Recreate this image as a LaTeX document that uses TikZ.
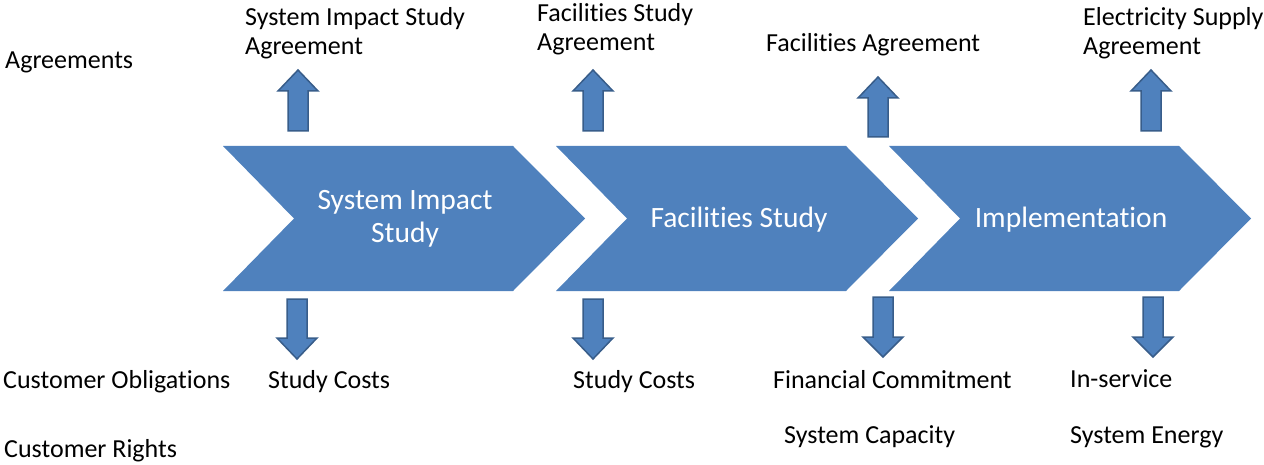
\documentclass[tikz,border=0pt]{standalone}
\usepackage{fontspec}
\setmainfont{Carlito}[Ligatures=NoCommon]
\definecolor{chevblue}{HTML}{4F81BD}
\definecolor{arrline}{HTML}{385D8A}
\newcommand\blkup[4]{\draw[blockarr] ({#1-10},{#4}) -- ({#1-10},{#3}) -- ({#1-20},{#3}) -- ({#1},{#2}) -- ({#1+20},{#3}) -- ({#1+10},{#3}) -- ({#1+10},{#4}) -- cycle;}
\newcommand\blkdown[4]{\draw[blockarr] ({#1-10},{#4}) -- ({#1-10},{#3}) -- ({#1-20},{#3}) -- ({#1},{#2}) -- ({#1+20},{#3}) -- ({#1+10},{#3}) -- ({#1+10},{#4}) -- cycle;}
\newcommand\chev[1]{\fill[chevblue] ({#1},146) -- ({#1+290},146) -- ({#1+362},218.5) -- ({#1+290},291) -- ({#1},291) -- ({#1+71},218.5) -- cycle;}
\begin{document}
\begin{tikzpicture}[x=1pt,y=-1pt,
  lbl/.style={anchor=base west,inner sep=0pt,font=\fontsize{26}{29}\selectfont,align=left},
  ctext/.style={anchor=base,inner sep=0pt,text=white,font=\fontsize{29.5}{33}\selectfont,align=center},
  blockarr/.style={fill=chevblue,draw=arrline,line width=1.5pt,line join=miter}]
\useasboundingbox (0,0) rectangle (1264,465);
% chevrons
\chev{223}
\chev{556}
\chev{889}
% up arrows
\blkup{298}{70}{91}{131}
\blkup{593}{70}{91}{131}
\blkup{878}{77}{98}{137}
\blkup{1151}{70}{91}{131}
% down arrows
\blkdown{297}{359}{338}{299}
\blkdown{593}{359}{338}{299}
\blkdown{883}{357}{337}{297}
\blkdown{1153}{357}{337}{297}
% chevron texts (base = last line)
\node[ctext] (c1) at (405,243) {System Impact\\Study};
\node[ctext] (c2) at (739,228) {Facilities Study};
\node[ctext] (c3) at (1071,228) {Implementation};
% row labels
\node[lbl] (agr) at (5,69) {Agreements};
\node[lbl] (obl) at (3,388) {Customer Obligations};
\node[lbl] (rig) at (4,457) {Customer Rights};
% agreements (base = last line)
\node[lbl] (a1) at (245,55) {System Impact Study\\Agreement};
\node[lbl] (a2) at (537,51) {Facilities Study\\Agreement};
\node[lbl] (a3) at (766,52) {Facilities Agreement};
\node[lbl] (a4) at (1083,55) {Electricity Supply\\Agreement};
% obligations
\node[lbl] (o1) at (268,388) {Study Costs};
\node[lbl] (o2) at (573,388) {Study Costs};
\node[lbl] (o3) at (773,388) {Financial Commitment};
\node[lbl] (o4) at (1070,387) {In-service};
% rights
\node[lbl] (r3) at (784,443) {System Capacity};
\node[lbl] (r4) at (1070,443) {System Energy};
\end{tikzpicture}
\end{document}
